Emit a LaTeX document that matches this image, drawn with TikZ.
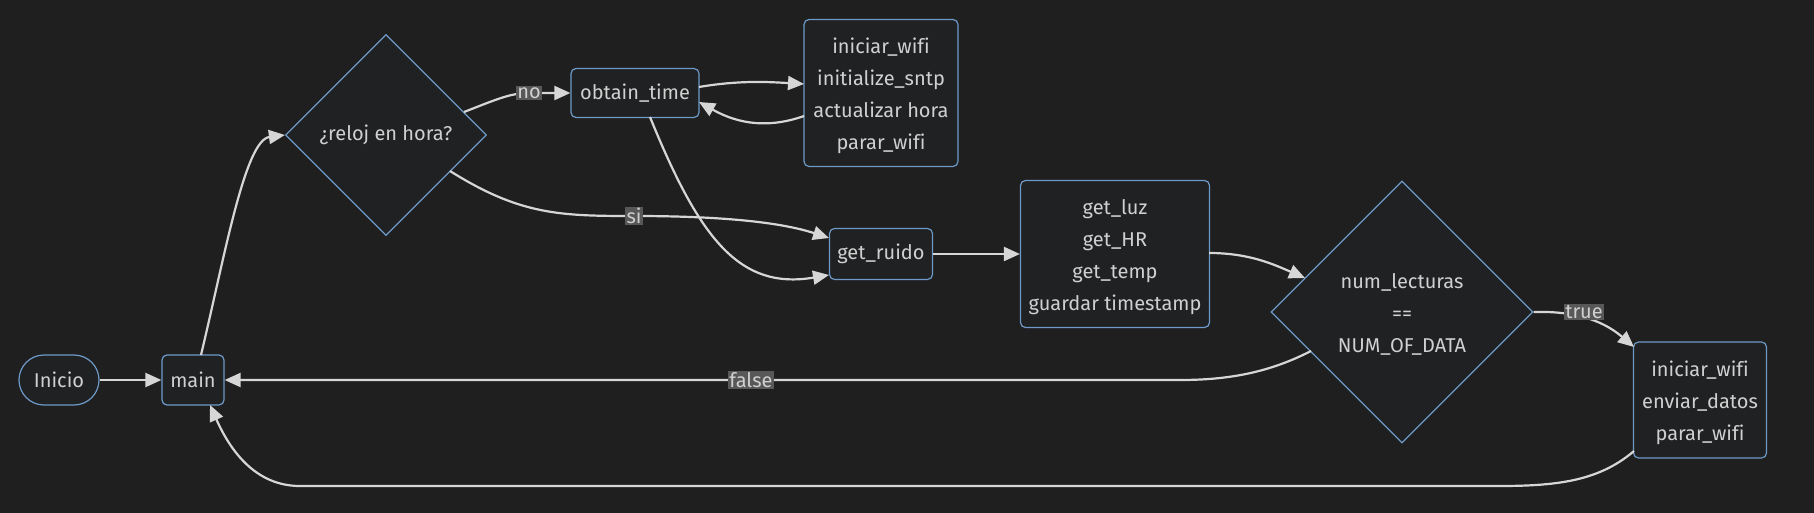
\documentclass[tikz,border=0pt]{standalone}
\usepackage{fontspec}
\setmainfont{Fira Sans}[Ligatures={NoCommon}]
\usetikzlibrary{shapes.geometric,arrows.meta}
\definecolor{bgc}{HTML}{1F1F1F}
\definecolor{nodefill}{HTML}{1F2122}
\definecolor{nodeedge}{HTML}{6D9AC8}
\definecolor{linec}{HTML}{D6D6D6}
\definecolor{txt}{HTML}{D0D0D0}
\definecolor{lblbg}{HTML}{585858}
\newcommand\myfirstline{\rule{0pt}{20.5pt}}
\tikzset{
  box/.style={draw=nodeedge, fill=nodefill, line width=1.2pt, rounded corners=5pt, text=txt, align=center, inner sep=0pt, font=\fontsize{20}{32}\selectfont},
  stadium/.style={box, rounded corners=25pt},
  dia/.style={draw=nodeedge, fill=nodefill, line width=1.2pt, diamond, text=txt, align=center, inner sep=0pt, font=\fontsize{20}{32}\selectfont},
  conn/.style={draw=linec, line width=2.2pt, -{Triangle[length=16pt,width=14pt]}},
  lbl/.style={fill=lblbg, text=txt, inner sep=1.5pt, font=\fontsize{20}{22}\selectfont}
}
\begin{document}
\begin{tikzpicture}[x=1pt,y=-1pt]
\useasboundingbox[fill=bgc] (0,0) rectangle (1814,513);
\node[stadium, minimum width=80pt, minimum height=50pt] (ini) at (59,380) {Inicio};
\node[box, minimum width=62pt, minimum height=50pt] (main) at (193,380) {main};
\node[dia, minimum width=201pt, minimum height=201pt] (d1) at (386,135) {¿reloj en hora?};
\node[box, minimum width=128pt, minimum height=49pt] (ot) at (635,93) {obtain\_time};
\node[box, minimum width=154pt, minimum height=147pt] (tb) at (881,93) {\myfirstline iniciar\_wifi\\initialize\_sntp\\actualizar hora\\parar\_wifi};
\node[box, minimum width=103pt, minimum height=51pt] (gr) at (881,254) {get\_ruido};
\node[box, minimum width=189pt, minimum height=147pt] (gl) at (1115,254) {\myfirstline get\_luz\\get\_HR\\get\_temp\\guardar timestamp};
\node[dia, minimum width=262pt, minimum height=262pt] (d2) at (1402,312) {\myfirstline num\_lecturas\\==\\NUM\_OF\_DATA};
\node[box, minimum width=133pt, minimum height=116pt] (fb) at (1700,400) {\myfirstline iniciar\_wifi\\enviar\_datos\\parar\_wifi};

\coordinate (m1) at (201,355);
\coordinate (n1) at (464,112);
\coordinate (s1) at (450,171);
\coordinate (o1) at (650,117);
\coordinate (o2) at (699,87);
\coordinate (o3) at (699,102);
\coordinate (t1) at (804,84);
\coordinate (t2) at (804,116);
\coordinate (r1) at (829,238);
\coordinate (r2) at (829,275);
\coordinate (g1) at (1209,253);
\coordinate (e1) at (1305,278);
\coordinate (e2) at (1311,351);
\coordinate (f1) at (1634,347);
\coordinate (f2) at (1634,451);
\coordinate (m2) at (210,405);

\draw[conn] (ini) -- (main);
\draw[conn] (m1) .. controls (225,255) and (245,140) .. (d1.west);
\draw[conn] (n1) .. controls (495,100) and (510,93) .. (529,93) -- (ot.west);
\node[lbl] (lno) at (529,93) {no};
\draw[conn] (s1) .. controls (520,215) and (560,216) .. (634,216) .. controls (720,216) and (780,222) .. (r1);
\node[lbl] (lsi) at (634,216) {si};
\draw[conn] (o2) .. controls (740,80) and (770,82) .. (t1);
\draw[conn] (t2) .. controls (770,128) and (740,125) .. (o3);
\draw[conn] (o1) .. controls (700,240) and (740,290) .. (r2);
\draw[conn] (gr) -- (gl);
\draw[conn] (g1) .. controls (1250,253) and (1275,265) .. (e1);
\draw[conn] (e2) .. controls (1270,372) and (1230,380) .. (1180,380) -- (main.east);
\node[lbl] (lfalse) at (751,380) {false};
\draw[conn] (d2.east) .. controls (1570,311) and (1600,318) .. (f1);
\node[lbl] (ltrue) at (1584,312) {true};
\draw[conn] (f2) .. controls (1600,480) and (1560,486) .. (1500,486) -- (300,486) .. controls (255,486) and (230,450) .. (m2);
\end{tikzpicture}
\end{document}
